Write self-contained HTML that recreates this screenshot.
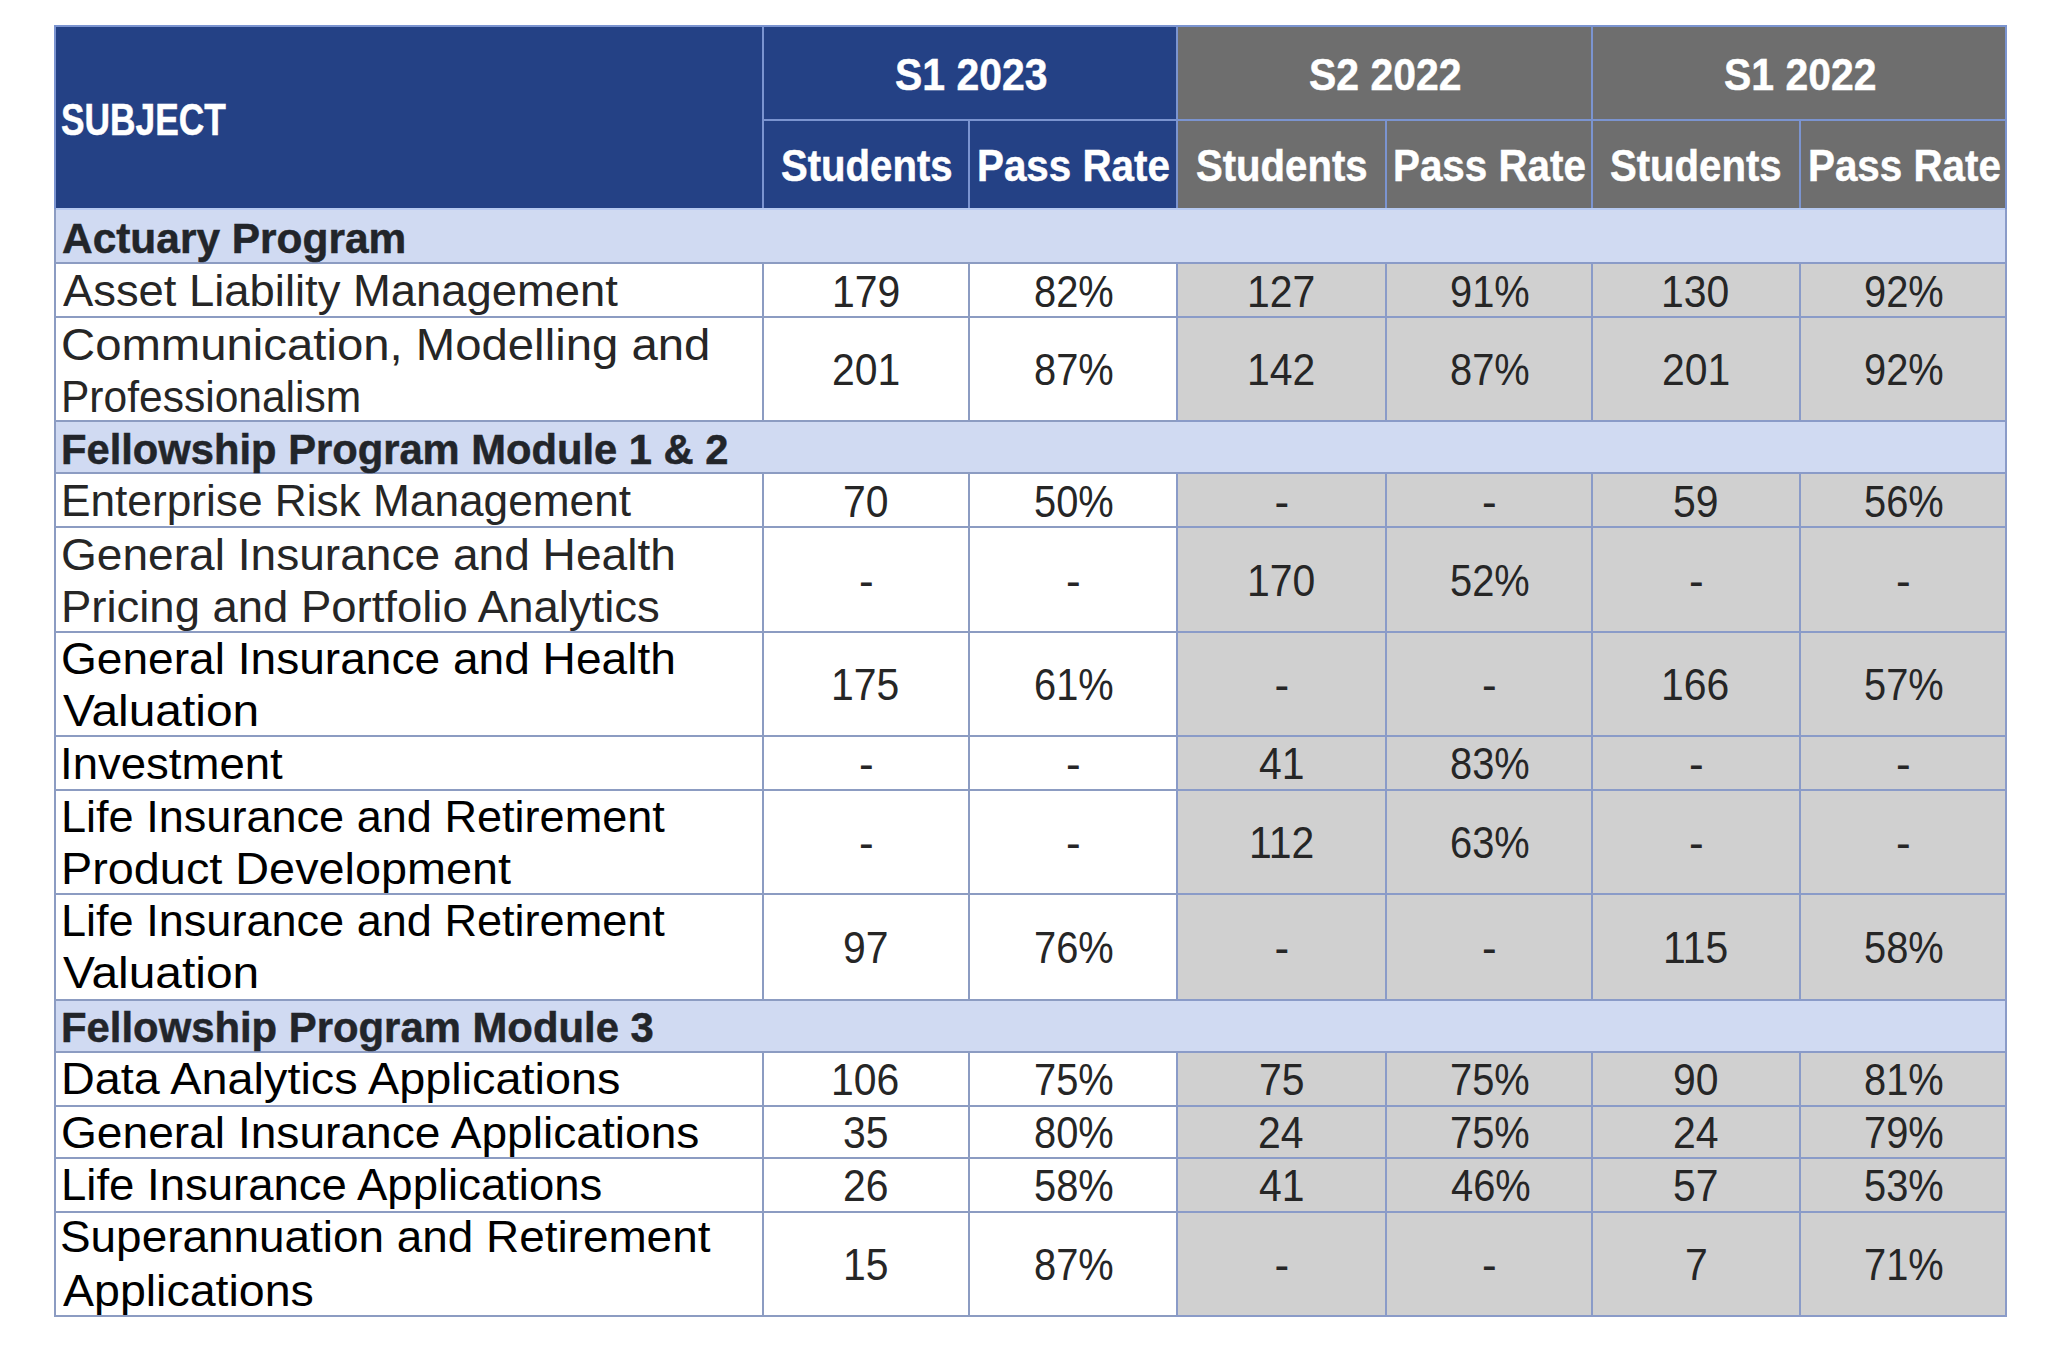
<!DOCTYPE html>
<html lang="en"><head><meta charset="utf-8"><title>Exam results by subject</title>
<style>
html,body{margin:0;padding:0;background:#fff;}
body{width:2048px;height:1352px;position:relative;overflow:hidden;font-family:"Liberation Sans",sans-serif;}
#g{position:absolute;left:54px;top:25px;width:1953px;height:1292px;background:#8c9cc2;}
#gg{position:absolute;left:1176px;top:208px;width:831px;height:1109px;background:#8a9bc8;}
#gh{position:absolute;left:54px;top:25px;width:1953px;height:184px;background:#7b94d0;}
.c{position:absolute;}
.t{position:absolute;white-space:nowrap;line-height:0;height:0;transform-origin:0 0;}
.hb{font-weight:bold;font-size:44px;color:#fff;-webkit-text-stroke:0.5px #fff;}
.sb{font-weight:bold;font-size:43px;color:#22252a;-webkit-text-stroke:0.5px #22252a;}
.bd{font-size:44px;color:#262626;}
.k{color:#000;}
</style></head>
<body>
<div id="g"></div><div id="gg"></div><div id="gh"></div>
<div class="c " style="left:56px;top:27px;width:706px;height:181px;background:#244185"></div>
<div class="c " style="left:764px;top:27px;width:412px;height:92px;background:#244185"></div>
<div class="c " style="left:1178px;top:27px;width:413px;height:92px;background:#6e6e6e"></div>
<div class="c " style="left:1593px;top:27px;width:412px;height:92px;background:#6e6e6e"></div>
<div class="c " style="left:764px;top:121px;width:204px;height:87px;background:#244185"></div>
<div class="c " style="left:970px;top:121px;width:206px;height:87px;background:#244185"></div>
<div class="c " style="left:1178px;top:121px;width:207px;height:87px;background:#6e6e6e"></div>
<div class="c " style="left:1387px;top:121px;width:204px;height:87px;background:#6e6e6e"></div>
<div class="c " style="left:1593px;top:121px;width:206px;height:87px;background:#6e6e6e"></div>
<div class="c " style="left:1801px;top:121px;width:204px;height:87px;background:#6e6e6e"></div>
<div class="c " style="left:56px;top:208px;width:1949px;height:2px;background:#b6c9f0"></div>
<span class="t hb" style="left:61.23px;top:119.55px;transform:scaleX(0.8032);">SUBJECT</span>
<span class="t hb" style="left:894.50px;top:75.25px;transform:scaleX(0.9296);">S1 2023</span>
<span class="t hb" style="left:1309.00px;top:75.25px;transform:scaleX(0.9296);">S2 2022</span>
<span class="t hb" style="left:1723.50px;top:75.25px;transform:scaleX(0.9296);">S1 2022</span>
<span class="t hb" style="left:781.23px;top:165.75px;transform:scaleX(0.9116);">Students</span>
<span class="t hb" style="left:1195.68px;top:165.75px;transform:scaleX(0.9116);">Students</span>
<span class="t hb" style="left:1610.13px;top:165.75px;transform:scaleX(0.9116);">Students</span>
<span class="t hb" style="left:976.51px;top:165.75px;transform:scaleX(0.9172);">Pass Rate</span>
<span class="t hb" style="left:1392.56px;top:165.75px;transform:scaleX(0.9172);">Pass Rate</span>
<span class="t hb" style="left:1807.56px;top:165.75px;transform:scaleX(0.9172);">Pass Rate</span>
<div class="c " style="left:56px;top:210px;width:1949px;height:52px;background:#d0daf2"></div>
<span class="t sb" style="left:61.72px;top:237.79px;transform:scaleX(0.9868);">Actuary Program</span>
<div class="c " style="left:56px;top:264px;width:706px;height:52px;background:#fff"></div>
<div class="c " style="left:764px;top:264px;width:204px;height:52px;background:#fff"></div>
<div class="c " style="left:970px;top:264px;width:206px;height:52px;background:#fff"></div>
<div class="c " style="left:1178px;top:264px;width:207px;height:52px;background:#d0d0d0"></div>
<div class="c " style="left:1387px;top:264px;width:204px;height:52px;background:#d0d0d0"></div>
<div class="c " style="left:1593px;top:264px;width:206px;height:52px;background:#d0d0d0"></div>
<div class="c " style="left:1801px;top:264px;width:204px;height:52px;background:#d0d0d0"></div>
<span class="t bd" style="left:62.66px;top:290.95px;transform:scaleX(1.0310);">Asset Liability Management</span>
<span class="t bd nm" style="left:831.51px;top:291.75px;transform:scaleX(0.9300);">179</span>
<span class="t bd nm" style="left:1033.99px;top:291.75px;transform:scaleX(0.9050);">82%</span>
<span class="t bd nm" style="left:1246.99px;top:291.75px;transform:scaleX(0.9300);">127</span>
<span class="t bd nm" style="left:1450.00px;top:291.75px;transform:scaleX(0.9050);">91%</span>
<span class="t bd nm" style="left:1661.40px;top:291.75px;transform:scaleX(0.9300);">130</span>
<span class="t bd nm" style="left:1864.00px;top:291.75px;transform:scaleX(0.9050);">92%</span>
<div class="c " style="left:56px;top:318px;width:706px;height:102px;background:#fff"></div>
<div class="c " style="left:764px;top:318px;width:204px;height:102px;background:#fff"></div>
<div class="c " style="left:970px;top:318px;width:206px;height:102px;background:#fff"></div>
<div class="c " style="left:1178px;top:318px;width:207px;height:102px;background:#d0d0d0"></div>
<div class="c " style="left:1387px;top:318px;width:204px;height:102px;background:#d0d0d0"></div>
<div class="c " style="left:1593px;top:318px;width:206px;height:102px;background:#d0d0d0"></div>
<div class="c " style="left:1801px;top:318px;width:204px;height:102px;background:#d0d0d0"></div>
<span class="t bd" style="left:60.59px;top:344.95px;transform:scaleX(1.0748);">Communication, Modelling and</span>
<span class="t bd" style="left:61.30px;top:396.75px;transform:scaleX(0.9666);">Professionalism</span>
<span class="t bd nm" style="left:831.92px;top:370.35px;transform:scaleX(0.9300);">201</span>
<span class="t bd nm" style="left:1033.99px;top:370.35px;transform:scaleX(0.9050);">87%</span>
<span class="t bd nm" style="left:1247.02px;top:370.35px;transform:scaleX(0.9300);">142</span>
<span class="t bd nm" style="left:1449.99px;top:370.35px;transform:scaleX(0.9050);">87%</span>
<span class="t bd nm" style="left:1661.92px;top:370.35px;transform:scaleX(0.9300);">201</span>
<span class="t bd nm" style="left:1864.00px;top:370.35px;transform:scaleX(0.9050);">92%</span>
<div class="c " style="left:56px;top:422px;width:1949px;height:50px;background:#d0daf2"></div>
<span class="t sb" style="left:61.21px;top:449.49px;transform:scaleX(0.9701);">Fellowship Program Module 1 &amp; 2</span>
<div class="c " style="left:56px;top:474px;width:706px;height:52px;background:#fff"></div>
<div class="c " style="left:764px;top:474px;width:204px;height:52px;background:#fff"></div>
<div class="c " style="left:970px;top:474px;width:206px;height:52px;background:#fff"></div>
<div class="c " style="left:1178px;top:474px;width:207px;height:52px;background:#d0d0d0"></div>
<div class="c " style="left:1387px;top:474px;width:204px;height:52px;background:#d0d0d0"></div>
<div class="c " style="left:1593px;top:474px;width:206px;height:52px;background:#d0d0d0"></div>
<div class="c " style="left:1801px;top:474px;width:204px;height:52px;background:#d0d0d0"></div>
<span class="t bd" style="left:61.17px;top:501.25px;transform:scaleX(1.0047);">Enterprise Risk Management</span>
<span class="t bd nm" style="left:843.35px;top:502.05px;transform:scaleX(0.9300);">70</span>
<span class="t bd nm" style="left:1033.90px;top:502.05px;transform:scaleX(0.9050);">50%</span>
<span class="t bd nm" style="left:1274.46px;top:502.05px;transform:scaleX(1.0000);">-</span>
<span class="t bd nm" style="left:1481.96px;top:502.05px;transform:scaleX(1.0000);">-</span>
<span class="t bd nm" style="left:1673.38px;top:502.05px;transform:scaleX(0.9300);">59</span>
<span class="t bd nm" style="left:1863.90px;top:502.05px;transform:scaleX(0.9050);">56%</span>
<div class="c " style="left:56px;top:528px;width:706px;height:103px;background:#fff"></div>
<div class="c " style="left:764px;top:528px;width:204px;height:103px;background:#fff"></div>
<div class="c " style="left:970px;top:528px;width:206px;height:103px;background:#fff"></div>
<div class="c " style="left:1178px;top:528px;width:207px;height:103px;background:#d0d0d0"></div>
<div class="c " style="left:1387px;top:528px;width:204px;height:103px;background:#d0d0d0"></div>
<div class="c " style="left:1593px;top:528px;width:206px;height:103px;background:#d0d0d0"></div>
<div class="c " style="left:1801px;top:528px;width:204px;height:103px;background:#d0d0d0"></div>
<span class="t bd" style="left:60.68px;top:554.65px;transform:scaleX(1.0473);">General Insurance and Health</span>
<span class="t bd" style="left:61.07px;top:606.65px;transform:scaleX(1.0329);">Pricing and Portfolio Analytics</span>
<span class="t bd nm" style="left:858.96px;top:580.85px;transform:scaleX(1.0000);">-</span>
<span class="t bd nm" style="left:1065.96px;top:580.85px;transform:scaleX(1.0000);">-</span>
<span class="t bd nm" style="left:1246.90px;top:580.85px;transform:scaleX(0.9300);">170</span>
<span class="t bd nm" style="left:1449.90px;top:580.85px;transform:scaleX(0.9050);">52%</span>
<span class="t bd nm" style="left:1688.96px;top:580.85px;transform:scaleX(1.0000);">-</span>
<span class="t bd nm" style="left:1895.96px;top:580.85px;transform:scaleX(1.0000);">-</span>
<div class="c " style="left:56px;top:633px;width:706px;height:102px;background:#fff"></div>
<div class="c " style="left:764px;top:633px;width:204px;height:102px;background:#fff"></div>
<div class="c " style="left:970px;top:633px;width:206px;height:102px;background:#fff"></div>
<div class="c " style="left:1178px;top:633px;width:207px;height:102px;background:#d0d0d0"></div>
<div class="c " style="left:1387px;top:633px;width:204px;height:102px;background:#d0d0d0"></div>
<div class="c " style="left:1593px;top:633px;width:206px;height:102px;background:#d0d0d0"></div>
<div class="c " style="left:1801px;top:633px;width:204px;height:102px;background:#d0d0d0"></div>
<span class="t bd k" style="left:60.68px;top:659.25px;transform:scaleX(1.0473);">General Insurance and Health</span>
<span class="t bd k" style="left:62.58px;top:710.95px;transform:scaleX(1.0891);">Valuation</span>
<span class="t bd nm" style="left:831.45px;top:685.35px;transform:scaleX(0.9300);">175</span>
<span class="t bd nm" style="left:1034.00px;top:685.35px;transform:scaleX(0.9050);">61%</span>
<span class="t bd nm" style="left:1274.46px;top:685.35px;transform:scaleX(1.0000);">-</span>
<span class="t bd nm" style="left:1481.96px;top:685.35px;transform:scaleX(1.0000);">-</span>
<span class="t bd nm" style="left:1661.48px;top:685.35px;transform:scaleX(0.9300);">166</span>
<span class="t bd nm" style="left:1863.90px;top:685.35px;transform:scaleX(0.9050);">57%</span>
<div class="c " style="left:56px;top:737px;width:706px;height:52px;background:#fff"></div>
<div class="c " style="left:764px;top:737px;width:204px;height:52px;background:#fff"></div>
<div class="c " style="left:970px;top:737px;width:206px;height:52px;background:#fff"></div>
<div class="c " style="left:1178px;top:737px;width:207px;height:52px;background:#d0d0d0"></div>
<div class="c " style="left:1387px;top:737px;width:204px;height:52px;background:#d0d0d0"></div>
<div class="c " style="left:1593px;top:737px;width:206px;height:52px;background:#d0d0d0"></div>
<div class="c " style="left:1801px;top:737px;width:204px;height:52px;background:#d0d0d0"></div>
<span class="t bd k" style="left:59.77px;top:763.65px;transform:scaleX(1.0350);">Investment</span>
<span class="t bd nm" style="left:858.96px;top:764.45px;transform:scaleX(1.0000);">-</span>
<span class="t bd nm" style="left:1065.96px;top:764.45px;transform:scaleX(1.0000);">-</span>
<span class="t bd nm" style="left:1259.43px;top:764.45px;transform:scaleX(0.9300);">41</span>
<span class="t bd nm" style="left:1449.99px;top:764.45px;transform:scaleX(0.9050);">83%</span>
<span class="t bd nm" style="left:1688.96px;top:764.45px;transform:scaleX(1.0000);">-</span>
<span class="t bd nm" style="left:1895.96px;top:764.45px;transform:scaleX(1.0000);">-</span>
<div class="c " style="left:56px;top:791px;width:706px;height:102px;background:#fff"></div>
<div class="c " style="left:764px;top:791px;width:204px;height:102px;background:#fff"></div>
<div class="c " style="left:970px;top:791px;width:206px;height:102px;background:#fff"></div>
<div class="c " style="left:1178px;top:791px;width:207px;height:102px;background:#d0d0d0"></div>
<div class="c " style="left:1387px;top:791px;width:204px;height:102px;background:#d0d0d0"></div>
<div class="c " style="left:1593px;top:791px;width:206px;height:102px;background:#d0d0d0"></div>
<div class="c " style="left:1801px;top:791px;width:204px;height:102px;background:#d0d0d0"></div>
<span class="t bd k" style="left:61.10px;top:816.75px;transform:scaleX(1.0245);">Life Insurance and Retirement</span>
<span class="t bd k" style="left:60.95px;top:869.15px;transform:scaleX(1.0637);">Product Development</span>
<span class="t bd nm" style="left:858.96px;top:843.35px;transform:scaleX(1.0000);">-</span>
<span class="t bd nm" style="left:1065.96px;top:843.35px;transform:scaleX(1.0000);">-</span>
<span class="t bd nm" style="left:1248.73px;top:843.35px;transform:scaleX(0.9300);">112</span>
<span class="t bd nm" style="left:1450.00px;top:843.35px;transform:scaleX(0.9050);">63%</span>
<span class="t bd nm" style="left:1688.96px;top:843.35px;transform:scaleX(1.0000);">-</span>
<span class="t bd nm" style="left:1895.96px;top:843.35px;transform:scaleX(1.0000);">-</span>
<div class="c " style="left:56px;top:895px;width:706px;height:104px;background:#fff"></div>
<div class="c " style="left:764px;top:895px;width:204px;height:104px;background:#fff"></div>
<div class="c " style="left:970px;top:895px;width:206px;height:104px;background:#fff"></div>
<div class="c " style="left:1178px;top:895px;width:207px;height:104px;background:#d0d0d0"></div>
<div class="c " style="left:1387px;top:895px;width:204px;height:104px;background:#d0d0d0"></div>
<div class="c " style="left:1593px;top:895px;width:206px;height:104px;background:#d0d0d0"></div>
<div class="c " style="left:1801px;top:895px;width:204px;height:104px;background:#d0d0d0"></div>
<span class="t bd k" style="left:61.10px;top:921.25px;transform:scaleX(1.0245);">Life Insurance and Retirement</span>
<span class="t bd k" style="left:62.58px;top:973.25px;transform:scaleX(1.0891);">Valuation</span>
<span class="t bd nm" style="left:843.45px;top:948.35px;transform:scaleX(0.9300);">97</span>
<span class="t bd nm" style="left:1034.15px;top:948.35px;transform:scaleX(0.9050);">76%</span>
<span class="t bd nm" style="left:1274.46px;top:948.35px;transform:scaleX(1.0000);">-</span>
<span class="t bd nm" style="left:1481.96px;top:948.35px;transform:scaleX(1.0000);">-</span>
<span class="t bd nm" style="left:1662.91px;top:948.35px;transform:scaleX(0.9300);">115</span>
<span class="t bd nm" style="left:1863.90px;top:948.35px;transform:scaleX(0.9050);">58%</span>
<div class="c " style="left:56px;top:1001px;width:1949px;height:50px;background:#d0daf2"></div>
<span class="t sb" style="left:61.20px;top:1026.59px;transform:scaleX(0.9730);">Fellowship Program Module 3</span>
<div class="c " style="left:56px;top:1053px;width:706px;height:52px;background:#fff"></div>
<div class="c " style="left:764px;top:1053px;width:204px;height:52px;background:#fff"></div>
<div class="c " style="left:970px;top:1053px;width:206px;height:52px;background:#fff"></div>
<div class="c " style="left:1178px;top:1053px;width:207px;height:52px;background:#d0d0d0"></div>
<div class="c " style="left:1387px;top:1053px;width:204px;height:52px;background:#d0d0d0"></div>
<div class="c " style="left:1593px;top:1053px;width:206px;height:52px;background:#d0d0d0"></div>
<div class="c " style="left:1801px;top:1053px;width:204px;height:52px;background:#d0d0d0"></div>
<span class="t bd k" style="left:60.95px;top:1079.15px;transform:scaleX(1.0638);">Data Analytics Applications</span>
<span class="t bd nm" style="left:831.48px;top:1079.95px;transform:scaleX(0.9300);">106</span>
<span class="t bd nm" style="left:1034.15px;top:1079.95px;transform:scaleX(0.9050);">75%</span>
<span class="t bd nm" style="left:1259.09px;top:1079.95px;transform:scaleX(0.9300);">75</span>
<span class="t bd nm" style="left:1450.15px;top:1079.95px;transform:scaleX(0.9050);">75%</span>
<span class="t bd nm" style="left:1673.20px;top:1079.95px;transform:scaleX(0.9300);">90</span>
<span class="t bd nm" style="left:1863.99px;top:1079.95px;transform:scaleX(0.9050);">81%</span>
<div class="c " style="left:56px;top:1107px;width:706px;height:50px;background:#fff"></div>
<div class="c " style="left:764px;top:1107px;width:204px;height:50px;background:#fff"></div>
<div class="c " style="left:970px;top:1107px;width:206px;height:50px;background:#fff"></div>
<div class="c " style="left:1178px;top:1107px;width:207px;height:50px;background:#d0d0d0"></div>
<div class="c " style="left:1387px;top:1107px;width:204px;height:50px;background:#d0d0d0"></div>
<div class="c " style="left:1593px;top:1107px;width:206px;height:50px;background:#d0d0d0"></div>
<div class="c " style="left:1801px;top:1107px;width:204px;height:50px;background:#d0d0d0"></div>
<span class="t bd k" style="left:60.67px;top:1132.65px;transform:scaleX(1.0481);">General Insurance Applications</span>
<span class="t bd nm" style="left:843.46px;top:1133.45px;transform:scaleX(0.9300);">35</span>
<span class="t bd nm" style="left:1033.99px;top:1133.45px;transform:scaleX(0.9050);">80%</span>
<span class="t bd nm" style="left:1258.42px;top:1133.45px;transform:scaleX(0.9300);">24</span>
<span class="t bd nm" style="left:1450.15px;top:1133.45px;transform:scaleX(0.9050);">75%</span>
<span class="t bd nm" style="left:1672.92px;top:1133.45px;transform:scaleX(0.9300);">24</span>
<span class="t bd nm" style="left:1864.15px;top:1133.45px;transform:scaleX(0.9050);">79%</span>
<div class="c " style="left:56px;top:1159px;width:706px;height:52px;background:#fff"></div>
<div class="c " style="left:764px;top:1159px;width:204px;height:52px;background:#fff"></div>
<div class="c " style="left:970px;top:1159px;width:206px;height:52px;background:#fff"></div>
<div class="c " style="left:1178px;top:1159px;width:207px;height:52px;background:#d0d0d0"></div>
<div class="c " style="left:1387px;top:1159px;width:204px;height:52px;background:#d0d0d0"></div>
<div class="c " style="left:1593px;top:1159px;width:206px;height:52px;background:#d0d0d0"></div>
<div class="c " style="left:1801px;top:1159px;width:204px;height:52px;background:#d0d0d0"></div>
<span class="t bd k" style="left:61.06px;top:1185.35px;transform:scaleX(1.0342);">Life Insurance Applications</span>
<span class="t bd nm" style="left:843.46px;top:1186.15px;transform:scaleX(0.9300);">26</span>
<span class="t bd nm" style="left:1033.90px;top:1186.15px;transform:scaleX(0.9050);">58%</span>
<span class="t bd nm" style="left:1259.43px;top:1186.15px;transform:scaleX(0.9300);">41</span>
<span class="t bd nm" style="left:1450.58px;top:1186.15px;transform:scaleX(0.9050);">46%</span>
<span class="t bd nm" style="left:1673.35px;top:1186.15px;transform:scaleX(0.9300);">57</span>
<span class="t bd nm" style="left:1863.90px;top:1186.15px;transform:scaleX(0.9050);">53%</span>
<div class="c " style="left:56px;top:1213px;width:706px;height:102px;background:#fff"></div>
<div class="c " style="left:764px;top:1213px;width:204px;height:102px;background:#fff"></div>
<div class="c " style="left:970px;top:1213px;width:206px;height:102px;background:#fff"></div>
<div class="c " style="left:1178px;top:1213px;width:207px;height:102px;background:#d0d0d0"></div>
<div class="c " style="left:1387px;top:1213px;width:204px;height:102px;background:#d0d0d0"></div>
<div class="c " style="left:1593px;top:1213px;width:206px;height:102px;background:#d0d0d0"></div>
<div class="c " style="left:1801px;top:1213px;width:204px;height:102px;background:#d0d0d0"></div>
<span class="t bd k" style="left:60.49px;top:1237.45px;transform:scaleX(1.0427);">Superannuation and Retirement</span>
<span class="t bd k" style="left:63.24px;top:1290.85px;transform:scaleX(1.0574);">Applications</span>
<span class="t bd nm" style="left:842.94px;top:1265.35px;transform:scaleX(0.9300);">15</span>
<span class="t bd nm" style="left:1033.99px;top:1265.35px;transform:scaleX(0.9050);">87%</span>
<span class="t bd nm" style="left:1274.46px;top:1265.35px;transform:scaleX(1.0000);">-</span>
<span class="t bd nm" style="left:1481.96px;top:1265.35px;transform:scaleX(1.0000);">-</span>
<span class="t bd nm" style="left:1684.92px;top:1265.35px;transform:scaleX(0.9300);">7</span>
<span class="t bd nm" style="left:1864.15px;top:1265.35px;transform:scaleX(0.9050);">71%</span>
</body></html>
